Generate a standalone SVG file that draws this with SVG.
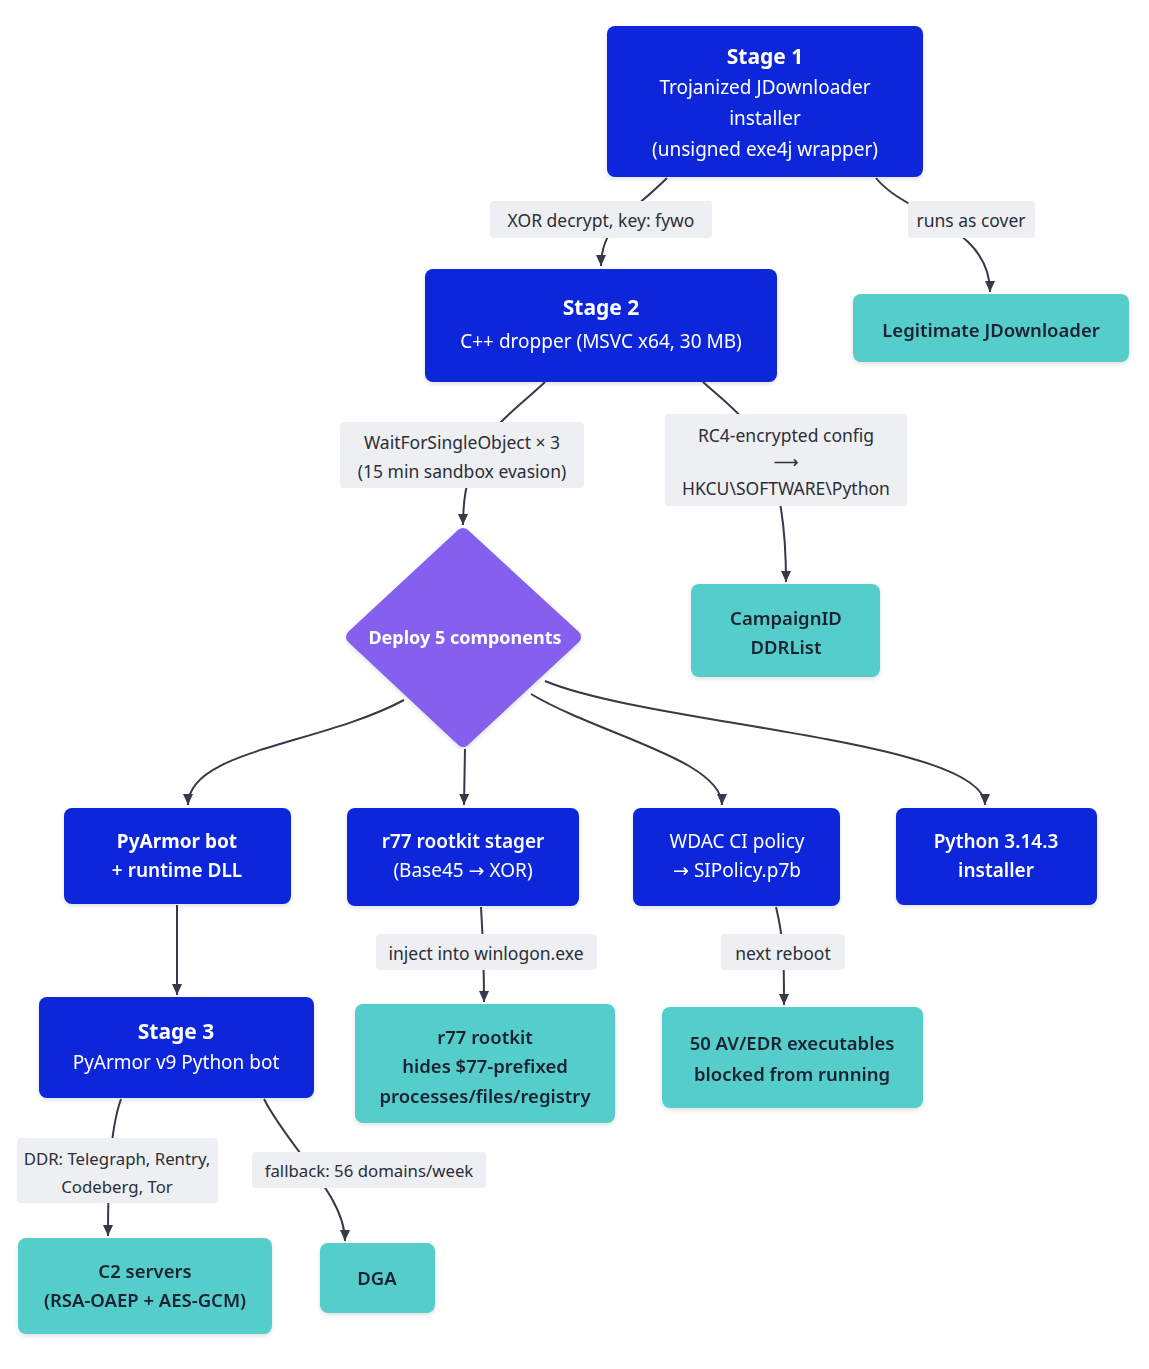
<svg xmlns="http://www.w3.org/2000/svg" width="1149" height="1369" viewBox="0 0 1149 1369">
<style>
text{font-family:"Noto Sans","Open Sans","DejaVu Sans",sans-serif;text-anchor:middle;dominant-baseline:central}
.blue{fill:#0A26DA}
.teal{fill:#55CDCB}
.lbl{fill:#EEEFF2}
.wt{fill:#FFFFFF;font-size:19px}
.wb{fill:#FFFFFF;font-size:21px;font-weight:700}
.dk{fill:#1C2233;font-size:18.5px;font-weight:600}
.lt{fill:#2A2E38;font-size:17.5px}
.edge{fill:none;stroke:#363a48;stroke-width:2}
</style>
<defs>
<marker id="arr" markerWidth="12" markerHeight="12" refX="11" refY="6" orient="auto" markerUnits="userSpaceOnUse">
<path d="M0,1 L11,6 L0,11 z" fill="#363a48"/>
</marker>
<filter id="sh" x="-10%" y="-10%" width="120%" height="130%">
<feDropShadow dx="0" dy="2" stdDeviation="2" flood-color="#000" flood-opacity="0.12"/>
</filter>
</defs>
<rect width="1149" height="1369" fill="#FFFFFF"/>
<g id="connectors">
<path class="edge" marker-end="url(#arr)" d="M667,178 C630,215 601,225 601,266"/>
<path class="edge" marker-end="url(#arr)" d="M876,178 C905,215 990,225 990,292"/>
<path class="edge" marker-end="url(#arr)" d="M545,382 C505,420 463,440 463,525"/>
<path class="edge" marker-end="url(#arr)" d="M703,382 C745,420 786,440 786,582"/>
<path class="edge" marker-end="url(#arr)" d="M404,700 C320,745 188,750 188,805"/>
<path class="edge" marker-end="url(#arr)" d="M465,749 L464,805"/>
<path class="edge" marker-end="url(#arr)" d="M531,694 C600,735 722,760 722,805"/>
<path class="edge" marker-end="url(#arr)" d="M545,681 C650,725 985,740 985,805"/>
<path class="edge" marker-end="url(#arr)" d="M177,905 L177,995"/>
<path class="edge" marker-end="url(#arr)" d="M481,907 C483,940 484,960 484,1002"/>
<path class="edge" marker-end="url(#arr)" d="M776,907 C784,940 784,960 784,1005"/>
<path class="edge" marker-end="url(#arr)" d="M121,1099 C110,1130 108,1180 108,1236"/>
<path class="edge" marker-end="url(#arr)" d="M264,1099 C290,1150 345,1195 345,1241"/>
</g>
<g id="label-xor"><rect class="lbl" x="490" y="201" width="222" height="37" rx="4"/><text class="lt" x="601" y="220">XOR decrypt, key: fywo</text></g>
<g id="label-cover"><rect class="lbl" x="908" y="201" width="127" height="37" rx="4"/><text class="lt" x="971" y="220">runs as cover</text></g>
<g id="label-wait"><rect class="lbl" x="340" y="422" width="244" height="66" rx="4"/><text class="lt" x="462" y="442">WaitForSingleObject × 3</text><text class="lt" x="462" y="471">(15 min sandbox evasion)</text></g>
<g id="label-rc4"><rect class="lbl" x="665" y="414" width="242" height="92" rx="4"/><text class="lt" x="786" y="435">RC4-encrypted config</text><text class="lt" x="786" y="461">⟶</text><text class="lt" x="786" y="488">HKCU\SOFTWARE\Python</text></g>
<g id="label-inject"><rect class="lbl" x="376" y="934" width="221" height="36" rx="4"/><text class="lt" x="486" y="953">inject into winlogon.exe</text></g>
<g id="label-reboot"><rect class="lbl" x="721" y="934" width="124" height="36" rx="4"/><text class="lt" x="783" y="953">next reboot</text></g>
<g id="label-ddr"><rect class="lbl" x="17" y="1138" width="201" height="65" rx="4"/><text class="lt" x="117" y="1158" style="font-size:16.8px">DDR: Telegraph, Rentry,</text><text class="lt" x="117" y="1186" style="font-size:16.8px">Codeberg, Tor</text></g>
<g id="label-fallback"><rect class="lbl" x="252" y="1152" width="234" height="36" rx="4"/><text class="lt" x="369" y="1170" style="font-size:16.8px">fallback: 56 domains/week</text></g>

<g id="stage1" filter="url(#sh)"><rect class="blue" x="607" y="26" width="316" height="151" rx="8"/><text class="wb" x="765" y="56">Stage 1</text><text class="wt" x="765" y="87">Trojanized JDownloader</text><text class="wt" x="765" y="118">installer</text><text class="wt" x="765" y="149">(unsigned exe4j wrapper)</text></g>
<g id="legit" filter="url(#sh)"><rect class="teal" x="853" y="294" width="276" height="68" rx="8"/><text class="dk" x="991" y="329">Legitimate JDownloader</text></g>
<g id="stage2" filter="url(#sh)"><rect class="blue" x="425" y="269" width="352" height="113" rx="8"/><text class="wb" x="601" y="307">Stage 2</text><text class="wt" x="601" y="341">C++ dropper (MSVC x64, 30 MB)</text></g>
<g id="campaign" filter="url(#sh)"><rect class="teal" x="691" y="584" width="189" height="93" rx="8"/><text class="dk" x="786" y="617">CampaignID</text><text class="dk" x="786" y="646">DDRList</text></g>
<g id="deploy" filter="url(#sh)"><polygon points="463,535 574,637 463,740 353,637" fill="#8561EE" stroke="#8561EE" stroke-width="14" stroke-linejoin="round"/><text x="465" y="637" style="fill:#FFFFFF;font-size:18px;font-weight:700">Deploy 5 components</text></g>
<g id="pyarmor" filter="url(#sh)"><rect class="blue" x="64" y="808" width="227" height="96" rx="8"/><text class="wt" x="177" y="841" style="font-weight:700">PyArmor bot</text><text class="wt" x="177" y="870" style="font-weight:600">+ runtime DLL</text></g>
<g id="r77stager" filter="url(#sh)"><rect class="blue" x="347" y="808" width="232" height="98" rx="8"/><text class="wt" x="463" y="841" style="font-weight:600">r77 rootkit stager</text><text class="wt" x="463" y="870">(Base45 → XOR)</text></g>
<g id="wdac" filter="url(#sh)"><rect class="blue" x="633" y="808" width="207" height="98" rx="8"/><text class="wt" x="737" y="841">WDAC CI policy</text><text class="wt" x="737" y="870">→ SIPolicy.p7b</text></g>
<g id="python" filter="url(#sh)"><rect class="blue" x="896" y="808" width="201" height="97" rx="8"/><text class="wt" x="996" y="841" style="font-weight:600">Python 3.14.3</text><text class="wt" x="996" y="870" style="font-weight:600">installer</text></g>
<g id="stage3" filter="url(#sh)"><rect class="blue" x="39" y="997" width="275" height="101" rx="8"/><text class="wb" x="176" y="1031">Stage 3</text><text class="wt" x="176" y="1062">PyArmor v9 Python bot</text></g>
<g id="r77rootkit" filter="url(#sh)"><rect class="teal" x="355" y="1004" width="260" height="119" rx="8"/><text class="dk" x="485" y="1036">r77 rootkit</text><text class="dk" x="485" y="1065">hides $77-prefixed</text><text class="dk" x="485" y="1095">processes/files/registry</text></g>
<g id="avedr" filter="url(#sh)"><rect class="teal" x="662" y="1007" width="261" height="101" rx="8"/><text class="dk" x="792" y="1042">50 AV/EDR executables</text><text class="dk" x="792" y="1073">blocked from running</text></g>
<g id="c2" filter="url(#sh)"><rect class="teal" x="18" y="1238" width="254" height="96" rx="8"/><text class="dk" x="145" y="1270">C2 servers</text><text class="dk" x="145" y="1299">(RSA-OAEP + AES-GCM)</text></g>
<g id="dga" filter="url(#sh)"><rect class="teal" x="320" y="1243" width="115" height="70" rx="8"/><text class="dk" x="377" y="1277">DGA</text></g>
</svg>
